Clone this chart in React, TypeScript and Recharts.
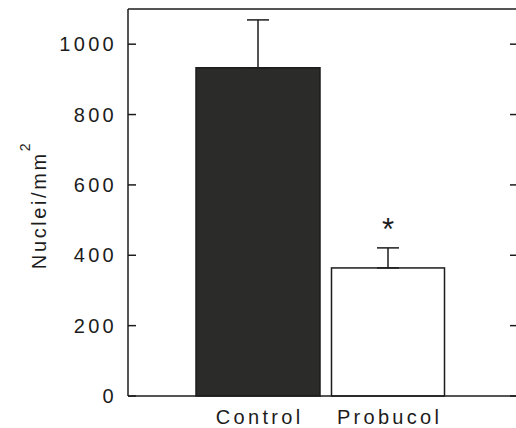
import { BarChart, Bar, XAxis, YAxis, ErrorBar, LabelList } from 'recharts'

const groups = ['Control', 'Probucol']
const means = [933, 364]
const sems = [136, 57]
const marks = ['', '*']
const yTicks = [0, 200, 400, 600, 800, 1000]

const data = groups.map((g, i) => ({ group: g, mean: means[i], err: [0, sems[i]], mark: marks[i] }))

const INK = '#1c1c1c'
const FONT = '"Liberation Sans", Arial, Helvetica, sans-serif'
const barFill = ['#2b2b29', '#ffffff']
const barWidth = [124, 113]
// right frame edge sits just past the picture, as in the scan
const PLOT_RIGHT = 518

const BarShape = (p: any) => {
  const w = barWidth[p.index]
  const cx = p.x + p.width / 2
  return (
    <rect x={cx - w / 2} y={p.y} width={w} height={p.height}
      fill={barFill[p.index]} stroke={INK} strokeWidth={1.5} />
  )
}

const Star = (p: any) => {
  const { x, y, width, height, value, index } = p
  if (!value) return null
  const k = height / means[index]
  const top = y - sems[index] * k
  return (
    <text x={x + width / 2} y={top - 8} textAnchor="middle" fontSize={31} fontFamily={FONT} fill={INK}>
      {value}
    </text>
  )
}

const LeftTick = (p: any) => {
  const { x, y, payload } = p
  return (
    <g>
      <line x1={x + 11} x2={x + 19} y1={y} y2={y} stroke={INK} strokeWidth={1.5} />
      <line x1={PLOT_RIGHT - 8} x2={PLOT_RIGHT} y1={y} y2={y} stroke={INK} strokeWidth={1.5} />
      <text x={x} y={y} dy="0.355em" textAnchor="end" fontSize={20} fontFamily={FONT}
        fill={INK} style={{ letterSpacing: 3.3 }}>
        {payload.value}
      </text>
    </g>
  )
}

const BottomTick = (p: any) => {
  const { x, y, payload } = p
  return (
    <text x={x} y={y} dy="0.71em" dx={1.6} textAnchor="middle" fontSize={20} fontFamily={FONT}
      fill={INK} style={{ letterSpacing: 3.3 }}>
      {payload.value}
    </text>
  )
}

const YLabel = (p: any) => {
  const vb = p.viewBox || { x: 0, y: 9, width: 128 }
  const left = vb.x + vb.width
  return (
    <g>
      <line x1={left} x2={PLOT_RIGHT} y1={vb.y} y2={vb.y} stroke={INK} strokeWidth={1.5} />
      <line x1={PLOT_RIGHT} x2={PLOT_RIGHT} y1={vb.y} y2={vb.y + vb.height} stroke={INK} strokeWidth={1.5} />
      <text x={46} y={205} transform="rotate(-90 46 205)" textAnchor="middle" fontSize={20}
        fontFamily={FONT} fill={INK} style={{ letterSpacing: 2.6 }}>
        Nuclei/mm<tspan fontSize={14} dy={-16}>2</tspan>
      </text>
    </g>
  )
}

export default function App() {
  return (
    <div style={{ position: 'absolute', left: 0, top: 0, width: 516, height: 428, overflow: 'hidden', background: '#fff' }}>
      <BarChart width={530} height={428} data={data} margin={{ top: 9, right: 12, bottom: 0, left: 0 }}>
        <XAxis dataKey="group" height={32} padding={{ left: 65, right: 65 }} tickLine={false} tickSize={0}
          tickMargin={14} tick={BottomTick} axisLine={{ stroke: INK, strokeWidth: 1.5 }} />
        <YAxis domain={[0, 1100]} ticks={yTicks} width={128} tickLine={false} tickSize={0} tickMargin={11}
          tick={LeftTick} axisLine={{ stroke: INK, strokeWidth: 1.5 }} label={{ content: YLabel }} />
        <Bar dataKey="mean" shape={BarShape} isAnimationActive={false}>
          <ErrorBar dataKey="err" width={11} stroke={INK} strokeWidth={1.5} direction="y" />
          <LabelList dataKey="mark" content={Star} />
        </Bar>
      </BarChart>
    </div>
  )
}
